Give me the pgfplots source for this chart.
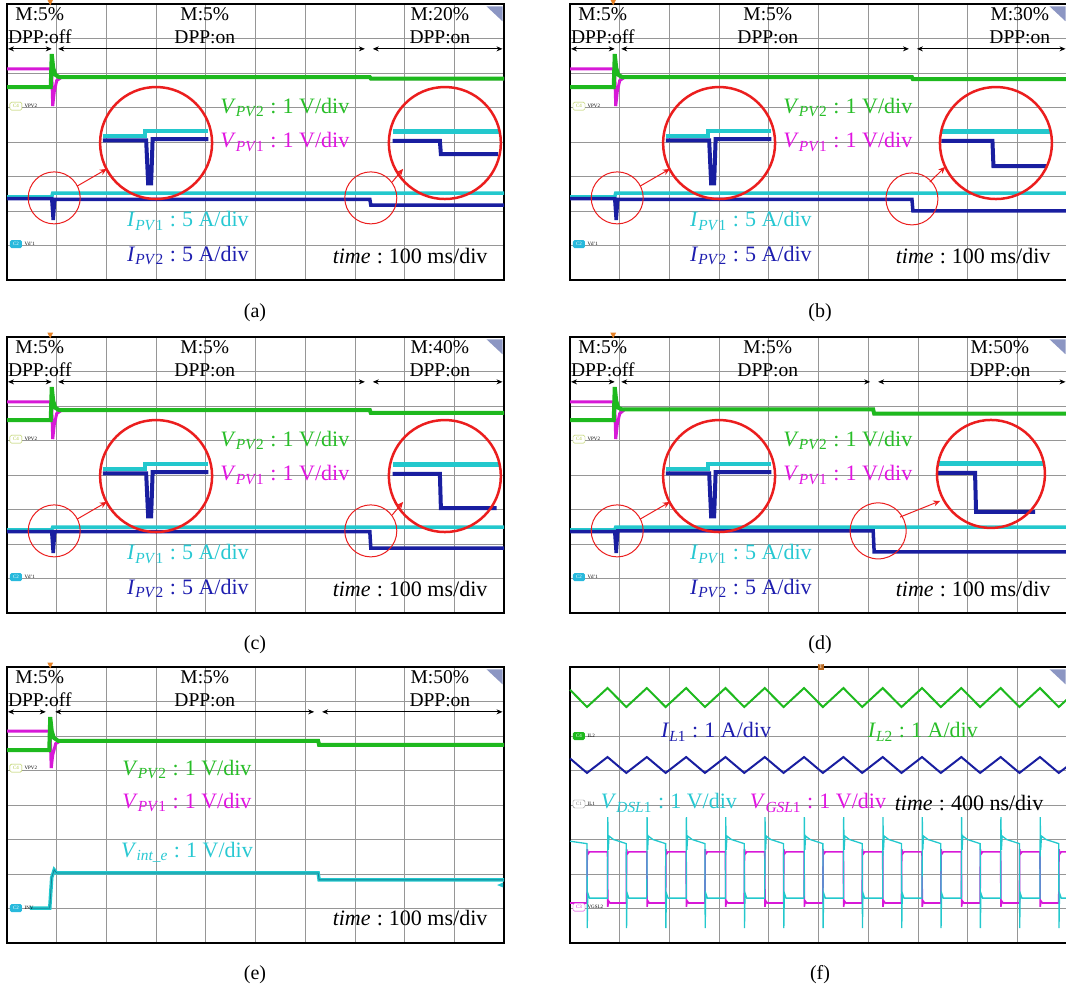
\documentclass[border=0pt]{standalone}
\usepackage{fontspec}
\setmainfont{Liberation Serif}
\usepackage{pgfplots}
\pgfplotsset{compat=1.18}
\usetikzlibrary{arrows.meta}
\definecolor{cgreen}{RGB}{30,185,30}
\definecolor{cmag}{RGB}{215,25,215}
\definecolor{ccyan}{RGB}{35,200,205}
\definecolor{cteal}{RGB}{20,130,150}
\definecolor{cblue}{RGB}{25,30,160}
\definecolor{tgreen}{RGB}{40,190,40}
\definecolor{tmag}{RGB}{225,20,225}
\definecolor{tcyan}{RGB}{40,200,210}
\definecolor{tblue}{RGB}{30,30,175}
\definecolor{cred}{RGB}{235,30,30}
\definecolor{gridc}{RGB}{150,150,150}
\definecolor{iconc}{RGB}{140,150,195}
\definecolor{corange}{RGB}{230,130,40}
\definecolor{tagy}{RGB}{175,200,70}
\definecolor{tagc}{RGB}{40,185,220}
\pgfplotsset{
  scope/.style={width=497pt,height=276pt,scale only axis,anchor=north west,
    xmin=0,xmax=10,ymin=0,ymax=8,xtick={1,...,9},ytick={1,...,7},
    xticklabels={},yticklabels={},major tick length=0pt,
    grid=major,major grid style={draw=gridc,line width=0.7pt},
    axis line style={line width=1.8pt},clip=false}
}
\tikzset{
  arr/.style={line width=0.9pt,{Stealth[length=6pt,width=5pt]}-{Stealth[length=6pt,width=5pt]}},
  mlab/.style={font=\fontsize{19.5}{23}\selectfont,align=center,inner sep=0pt},
  txt/.style={font=\fontsize{22}{26}\selectfont,inner sep=0pt},
  capt/.style={font=\fontsize{20}{24}\selectfont},
  sml/.style={font=\fontsize{5}{5}\selectfont,inner sep=0.5pt,anchor=west},
  tagout/.style={draw=#1,text=#1,fill=white,rounded corners=1.5pt,inner sep=1pt,font=\fontsize{5}{5}\selectfont,minimum width=12pt,minimum height=8pt},
  tagfill/.style={fill=#1,text=white,rounded corners=1.5pt,inner sep=1pt,font=\fontsize{5}{5}\selectfont,minimum width=12pt,minimum height=8pt},
  redarr/.style={cred,line width=1pt,-{Stealth[length=7pt,width=6pt]}},
}
\newcommand{\sub}[2]{\textit{#1}\textsubscript{#2}}
\newcommand{\cln}{\;:\;}
\newcommand{\toplabels}[6]{%
  \draw[arr] (axis cs:0.02,6.70) -- (axis cs:#1,6.70);
  \draw[arr] (axis cs:#2,6.70) -- (axis cs:#3,6.70);
  \draw[arr] (axis cs:#4,6.70) -- (axis cs:9.97,6.70);
  \node[mlab] at (axis cs:0.66,7.36) {M:5\%\\DPP:off};
  \node[mlab] at (axis cs:3.98,7.36) {M:5\%\\DPP:on};
  \node[mlab] at (axis cs:#5,7.36) {M:#6\%\\DPP:on};
  \fill[iconc] (axis cs:9.65,7.93) -- (axis cs:9.97,7.93) -- (axis cs:9.97,7.5) -- cycle;
  \fill[corange] (axis cs:0.81,8.13) -- (axis cs:0.93,8.13) -- (axis cs:0.87,7.96) -- cycle;
}
\newcommand{\pvlabels}{%
  \node[txt,text=tgreen] at (axis cs:5.59,5.01) {\sub{V}{\textit{PV}2}\cln 1 V/div};
  \node[txt,text=tmag] at (axis cs:5.59,4.0) {\sub{V}{\textit{PV}1}\cln 1 V/div};
  \node[txt,text=tcyan] at (axis cs:3.64,1.71) {\sub{I}{\textit{PV}1}\cln 5 A/div};
  \node[txt,text=tblue] at (axis cs:3.64,0.70) {\sub{I}{\textit{PV}2}\cln 5 A/div};
  \node[txt] at (axis cs:8.11,0.70) {\textit{time}\cln 100 ms/div};
  \node[tagout=tagy] at (axis cs:0.18,5.04) {C4}; \node[sml] at (axis cs:0.34,5.04) {VPV2};
  \node[tagfill=tagc] at (axis cs:0.18,1.04) {C2}; \node[sml] at (axis cs:0.34,1.04) {Vd'1};
  \draw[cred,line width=1pt] (axis cs:0.95,2.38) circle[radius=26pt];
  \draw[cred,line width=2.5pt] (axis cs:3.0,3.97) circle[radius=56pt];
  \draw[redarr] (axis cs:1.41,2.72) -- (axis cs:2.01,3.22);
}
\begin{document}
\begin{tikzpicture}
\useasboundingbox (0pt,0pt) rectangle (1066pt,-992pt);
%================ (a)
\begin{axis}[scope,at={(7pt,-4pt)}]
\addplot[cmag,line width=3pt] coordinates {(0,6.12) (0.88,6.12) (0.9,6.0) (0.92,5.04) (0.95,5.45) (1.0,5.78) (1.1,5.88) (7.3,5.88) (7.32,5.84) (10,5.84)};
\addplot[cgreen,line width=4pt] coordinates {(0,5.59) (0.88,5.59) (0.9,6.55) (0.93,6.15) (0.97,5.95) (1.05,5.88) (7.3,5.88) (7.32,5.84) (10,5.84)};
\addplot[ccyan,line width=3.5pt] coordinates {(0,2.41) (0.9,2.41) (0.92,2.52) (10,2.52)};
\addplot[cblue,line width=3.5pt] coordinates {(0,2.36) (0.9,2.36) (0.93,1.74) (0.96,2.34) (7.3,2.34) (7.32,2.17) (10,2.17)};
\addplot[ccyan,line width=4pt] coordinates {(1.93,4.17) (2.78,4.17) (2.78,4.32) (4.05,4.32)};
\addplot[cblue,line width=4pt] coordinates {(1.93,4.05) (2.80,4.05) (2.84,2.80) (2.90,2.80) (2.93,4.08) (4.05,4.08)};
\addplot[ccyan,line width=5pt] coordinates {(7.76,4.29) (9.92,4.29)};
\addplot[cblue,line width=4pt] coordinates {(7.76,4.03) (8.71,4.03) (8.73,3.65) (9.88,3.65)};
\toplabels{0.9}{1.03}{7.2}{7.36}{8.71}{20}
\pvlabels
\draw[cred,line width=1pt] (axis cs:7.32,2.38) circle[radius=26pt];
\draw[cred,line width=2.5pt] (axis cs:8.81,3.97) circle[radius=56pt];
\draw[redarr] (axis cs:7.75,2.84) -- (axis cs:7.97,3.22);
\end{axis}
%================ (b)
\begin{axis}[scope,at={(570pt,-4pt)}]
\addplot[cmag,line width=3pt] coordinates {(0,6.12) (0.88,6.12) (0.9,6.0) (0.92,5.04) (0.95,5.45) (1.0,5.78) (1.1,5.88) (6.88,5.88) (6.9,5.82) (10,5.82)};
\addplot[cgreen,line width=4pt] coordinates {(0,5.59) (0.88,5.59) (0.9,6.55) (0.93,6.15) (0.97,5.95) (1.05,5.88) (6.88,5.88) (6.9,5.82) (10,5.82)};
\addplot[ccyan,line width=3.5pt] coordinates {(0,2.41) (0.9,2.41) (0.92,2.52) (10,2.52)};
\addplot[cblue,line width=3.5pt] coordinates {(0,2.36) (0.9,2.36) (0.93,1.74) (0.96,2.34) (6.88,2.34) (6.9,2.0) (10,2.0)};
\addplot[ccyan,line width=4pt] coordinates {(1.93,4.17) (2.78,4.17) (2.78,4.32) (4.05,4.32)};
\addplot[cblue,line width=4pt] coordinates {(1.93,4.05) (2.80,4.05) (2.84,2.80) (2.90,2.80) (2.93,4.08) (4.05,4.08)};
\addplot[ccyan,line width=5pt] coordinates {(7.47,4.29) (9.65,4.29)};
\addplot[cblue,line width=4pt] coordinates {(7.47,4.03) (8.5,4.03) (8.52,3.30) (9.6,3.30)};
\toplabels{0.9}{1.03}{6.82}{6.98}{9.05}{30}
\pvlabels
\draw[cred,line width=1pt] (axis cs:6.88,2.35) circle[radius=26pt];
\draw[cred,line width=2.5pt] (axis cs:8.57,3.97) circle[radius=56pt];
\draw[redarr] (axis cs:7.24,2.84) -- (axis cs:7.55,3.28);
\end{axis}
%================ (c)
\begin{axis}[scope,at={(7pt,-337pt)}]
\addplot[cmag,line width=3pt] coordinates {(0,6.12) (0.88,6.12) (0.9,6.0) (0.92,5.04) (0.95,5.45) (1.0,5.78) (1.1,5.88) (7.3,5.88) (7.32,5.80) (10,5.80)};
\addplot[cgreen,line width=4pt] coordinates {(0,5.59) (0.88,5.59) (0.9,6.55) (0.93,6.15) (0.97,5.95) (1.05,5.88) (7.3,5.88) (7.32,5.80) (10,5.80)};
\addplot[ccyan,line width=3.5pt] coordinates {(0,2.41) (0.9,2.41) (0.92,2.49) (10,2.49)};
\addplot[cblue,line width=3.5pt] coordinates {(0,2.36) (0.9,2.36) (0.93,1.74) (0.96,2.36) (7.3,2.36) (7.32,1.88) (10,1.88)};
\addplot[ccyan,line width=4pt] coordinates {(1.93,4.17) (2.78,4.17) (2.78,4.32) (4.05,4.32)};
\addplot[cblue,line width=4pt] coordinates {(1.93,4.05) (2.80,4.05) (2.84,2.80) (2.90,2.80) (2.93,4.08) (4.05,4.08)};
\addplot[ccyan,line width=5pt] coordinates {(7.76,4.29) (9.92,4.29)};
\addplot[cblue,line width=4pt] coordinates {(7.76,4.03) (8.71,4.03) (8.73,3.04) (9.85,3.04)};
\toplabels{0.9}{1.03}{7.2}{7.36}{8.71}{40}
\pvlabels
\draw[cred,line width=1pt] (axis cs:7.32,2.38) circle[radius=26pt];
\draw[cred,line width=2.5pt] (axis cs:8.81,3.97) circle[radius=56pt];
\draw[redarr] (axis cs:7.75,2.84) -- (axis cs:7.97,3.22);
\end{axis}
%================ (d)
\begin{axis}[scope,at={(570pt,-337pt)}]
\addplot[cmag,line width=3pt] coordinates {(0,6.12) (0.88,6.12) (0.9,6.0) (0.92,5.04) (0.95,5.45) (1.0,5.78) (1.1,5.90) (6.1,5.90) (6.12,5.78) (10,5.78)};
\addplot[cgreen,line width=4pt] coordinates {(0,5.59) (0.88,5.59) (0.9,6.55) (0.93,6.15) (0.97,5.95) (1.05,5.90) (6.1,5.90) (6.12,5.78) (10,5.78)};
\addplot[ccyan,line width=3.5pt] coordinates {(0,2.41) (0.9,2.41) (0.92,2.49) (10,2.49)};
\addplot[cblue,line width=3.5pt] coordinates {(0,2.36) (0.9,2.36) (0.93,1.74) (0.96,2.38) (6.1,2.38) (6.12,1.77) (10,1.77)};
\addplot[ccyan,line width=4pt] coordinates {(1.93,4.17) (2.78,4.17) (2.78,4.32) (4.05,4.32)};
\addplot[cblue,line width=4pt] coordinates {(1.93,4.05) (2.80,4.05) (2.84,2.80) (2.90,2.80) (2.93,4.08) (4.05,4.08)};
\addplot[ccyan,line width=5pt] coordinates {(7.40,4.33) (9.52,4.33)};
\addplot[cblue,line width=4pt] coordinates {(7.40,4.06) (8.15,4.06) (8.17,2.93) (9.36,2.93)};
\toplabels{0.9}{1.03}{6.04}{6.2}{8.65}{50}
\pvlabels
\draw[cred,line width=1pt] (axis cs:6.2,2.38) circle[radius=28pt];
\draw[cred,line width=2.5pt] (axis cs:8.47,4.03) circle[radius=54pt];
\draw[redarr] (axis cs:6.64,2.78) -- (axis cs:7.45,3.25);
\end{axis}
%================ (e)
\begin{axis}[scope,at={(7pt,-667pt)}]
\addplot[cmag,line width=3pt] coordinates {(0,6.14) (0.85,6.14) (0.87,6.0) (0.89,5.07) (0.92,5.45) (0.98,5.78) (1.08,5.86) (6.26,5.86) (6.28,5.74) (10,5.74)};
\addplot[cgreen,line width=4pt] coordinates {(0,5.59) (0.85,5.59) (0.87,6.55) (0.9,6.15) (0.94,5.95) (1.03,5.86) (6.26,5.86) (6.28,5.74) (10,5.74)};
\addplot[ccyan,line width=3.5pt] coordinates {(0.46,1.01) (0.86,1.01) (0.9,1.9) (0.95,2.12) (1.0,2.03) (6.26,2.03) (6.28,1.83) (10,1.83)};
\addplot[cteal,line width=0.8pt] coordinates {(0.46,1.01) (0.86,1.01) (0.9,1.9) (0.95,2.12) (1.0,2.03) (6.26,2.03) (6.28,1.83) (10,1.83)};
\toplabels{0.78}{0.97}{6.18}{6.34}{8.71}{50}
\node[txt,text=tgreen] at (axis cs:3.62,5.04) {\sub{V}{\textit{PV}2}\cln 1 V/div};
\node[txt,text=tmag] at (axis cs:3.62,4.06) {\sub{V}{\textit{PV}1}\cln 1 V/div};
\node[txt,text=tcyan] at (axis cs:3.62,2.64) {\sub{V}{\textit{int\_e}}\cln 1 V/div};
\node[txt] at (axis cs:8.11,0.72) {\textit{time}\cln 100 ms/div};
\node[tagout=tagy] at (axis cs:0.18,5.07) {C4}; \node[sml] at (axis cs:0.34,5.07) {VPV2};
\node[tagfill=tagc] at (axis cs:0.18,1.01) {C2}; \node[sml] at (axis cs:0.34,1.01) {INV};
\fill[tcyan] (axis cs:9.86,1.68) -- (axis cs:9.98,1.75) -- (axis cs:9.98,1.61) -- cycle;
\end{axis}
%================ (f)
\begin{axis}[scope,at={(570pt,-667pt)}]
\addplot[cgreen,line width=2pt] coordinates {(0,7.34) (0.342,6.84) (0.755,7.39) (1.133,6.84) (1.546,7.39) (1.924,6.84) (2.337,7.39) (2.715,6.84) (3.128,7.39) (3.506,6.84) (3.919,7.39) (4.297,6.84) (4.710,7.39) (5.088,6.84) (5.501,7.39) (5.879,6.84) (6.292,7.39) (6.670,6.84) (7.083,7.39) (7.461,6.84) (7.874,7.39) (8.252,6.84) (8.665,7.39) (9.043,6.84) (9.456,7.39) (9.834,6.84) (10,7.06)};
\addplot[cblue,line width=2pt] coordinates {(0,5.35) (0.342,4.93) (0.755,5.39) (1.133,4.93) (1.546,5.39) (1.924,4.93) (2.337,5.39) (2.715,4.93) (3.128,5.39) (3.506,4.93) (3.919,5.39) (4.297,4.93) (4.710,5.39) (5.088,4.93) (5.501,5.39) (5.879,4.93) (6.292,5.39) (6.670,4.93) (7.083,5.39) (7.461,4.93) (7.874,5.39) (8.252,4.93) (8.665,5.39) (9.043,4.93) (9.456,5.39) (9.834,4.93) (10,5.11)};
\addplot[cmag,line width=1.6pt] coordinates {(0,1.16) (0.342,1.16)
 (0.347,2.72) (0.362,2.58) (0.392,2.64) (0.755,2.64) (0.760,1.05) (0.775,1.22) (0.805,1.16) (1.133,1.16)
 (1.138,2.72) (1.153,2.58) (1.183,2.64) (1.546,2.64) (1.551,1.05) (1.566,1.22) (1.596,1.16) (1.924,1.16)
 (1.929,2.72) (1.944,2.58) (1.974,2.64) (2.337,2.64) (2.342,1.05) (2.357,1.22) (2.387,1.16) (2.715,1.16)
 (2.720,2.72) (2.735,2.58) (2.765,2.64) (3.128,2.64) (3.133,1.05) (3.148,1.22) (3.178,1.16) (3.506,1.16)
 (3.511,2.72) (3.526,2.58) (3.556,2.64) (3.919,2.64) (3.924,1.05) (3.939,1.22) (3.969,1.16) (4.297,1.16)
 (4.302,2.72) (4.317,2.58) (4.347,2.64) (4.710,2.64) (4.715,1.05) (4.730,1.22) (4.760,1.16) (5.088,1.16)
 (5.093,2.72) (5.108,2.58) (5.138,2.64) (5.501,2.64) (5.506,1.05) (5.521,1.22) (5.551,1.16) (5.879,1.16)
 (5.884,2.72) (5.899,2.58) (5.929,2.64) (6.292,2.64) (6.297,1.05) (6.312,1.22) (6.342,1.16) (6.670,1.16)
 (6.675,2.72) (6.690,2.58) (6.720,2.64) (7.083,2.64) (7.088,1.05) (7.103,1.22) (7.133,1.16) (7.461,1.16)
 (7.466,2.72) (7.481,2.58) (7.511,2.64) (7.874,2.64) (7.879,1.05) (7.894,1.22) (7.924,1.16) (8.252,1.16)
 (8.257,2.72) (8.272,2.58) (8.302,2.64) (8.665,2.64) (8.670,1.05) (8.685,1.22) (8.715,1.16) (9.043,1.16)
 (9.048,2.72) (9.063,2.58) (9.093,2.64) (9.456,2.64) (9.461,1.05) (9.476,1.22) (9.506,1.16) (9.834,1.16)
 (9.839,2.72) (9.854,2.58) (9.884,2.64) (10,2.64)};
\addplot[ccyan,line width=1.3pt] coordinates {(0,2.95) (0.342,2.88)
 (0.347,0.43) (0.357,1.45) (0.392,1.30) (0.755,1.30) (0.760,3.65) (0.770,2.70) (0.785,3.10) (0.875,3.00) (1.133,2.88)
 (1.138,0.43) (1.148,1.45) (1.183,1.30) (1.546,1.30) (1.551,3.65) (1.561,2.70) (1.576,3.10) (1.666,3.00) (1.924,2.88)
 (1.929,0.43) (1.939,1.45) (1.974,1.30) (2.337,1.30) (2.342,3.65) (2.352,2.70) (2.367,3.10) (2.457,3.00) (2.715,2.88)
 (2.720,0.43) (2.730,1.45) (2.765,1.30) (3.128,1.30) (3.133,3.65) (3.143,2.70) (3.158,3.10) (3.248,3.00) (3.506,2.88)
 (3.511,0.43) (3.521,1.45) (3.556,1.30) (3.919,1.30) (3.924,3.65) (3.934,2.70) (3.949,3.10) (4.039,3.00) (4.297,2.88)
 (4.302,0.43) (4.312,1.45) (4.347,1.30) (4.710,1.30) (4.715,3.65) (4.725,2.70) (4.740,3.10) (4.830,3.00) (5.088,2.88)
 (5.093,0.43) (5.103,1.45) (5.138,1.30) (5.501,1.30) (5.506,3.65) (5.516,2.70) (5.531,3.10) (5.621,3.00) (5.879,2.88)
 (5.884,0.43) (5.894,1.45) (5.929,1.30) (6.292,1.30) (6.297,3.65) (6.307,2.70) (6.322,3.10) (6.412,3.00) (6.670,2.88)
 (6.675,0.43) (6.685,1.45) (6.720,1.30) (7.083,1.30) (7.088,3.65) (7.098,2.70) (7.113,3.10) (7.203,3.00) (7.461,2.88)
 (7.466,0.43) (7.476,1.45) (7.511,1.30) (7.874,1.30) (7.879,3.65) (7.889,2.70) (7.904,3.10) (7.994,3.00) (8.252,2.88)
 (8.257,0.43) (8.267,1.45) (8.302,1.30) (8.665,1.30) (8.670,3.65) (8.680,2.70) (8.695,3.10) (8.785,3.00) (9.043,2.88)
 (9.048,0.43) (9.058,1.45) (9.093,1.30) (9.456,1.30) (9.461,3.65) (9.471,2.70) (9.486,3.10) (9.576,3.00) (9.834,2.88)
 (9.839,0.43) (9.849,1.45) (9.884,1.30) (10,1.30)};
\node[txt,text=tblue] at (axis cs:2.94,6.12) {\sub{I}{\textit{L}1}\cln 1 A/div};
\node[txt,text=tgreen] at (axis cs:7.10,6.12) {\sub{I}{\textit{L}2}\cln 1 A/div};
\node[txt,text=tcyan] at (axis cs:1.99,4.06) {\sub{V}{\textit{DSL}1}\cln 1 V/div};
\node[txt,text=tmag] at (axis cs:4.99,4.06) {\sub{V}{\textit{GSL}1}\cln 1 V/div};
\node[txt] at (axis cs:8.03,4.06) {\textit{time}\cln 400 ns/div};
\node[tagfill=cgreen] at (axis cs:0.18,6.0) {C4}; \node[sml] at (axis cs:0.34,6.0) {IL2};
\node[tagout=gray] at (axis cs:0.18,4.03) {C1}; \node[sml] at (axis cs:0.34,4.03) {IL1};
\node[tagout=cmag] at (axis cs:0.18,1.04) {C3}; \node[sml] at (axis cs:0.34,1.04) {VGSL2};
\fill[iconc] (axis cs:9.65,7.93) -- (axis cs:9.97,7.93) -- (axis cs:9.97,7.5) -- cycle;
\node[fill=corange!80!black,text=white,inner sep=1pt,font=\fontsize{6}{6}\selectfont,anchor=north] at (axis cs:5.05,8.1) {T};
\end{axis}
\node[capt] at (255pt,-313pt) {(a)};
\node[capt] at (820pt,-313pt) {(b)};
\node[capt] at (255pt,-645pt) {(c)};
\node[capt] at (820pt,-645pt) {(d)};
\node[capt] at (255pt,-975pt) {(e)};
\node[capt] at (820pt,-975pt) {(f)};
\end{tikzpicture}
\end{document}
